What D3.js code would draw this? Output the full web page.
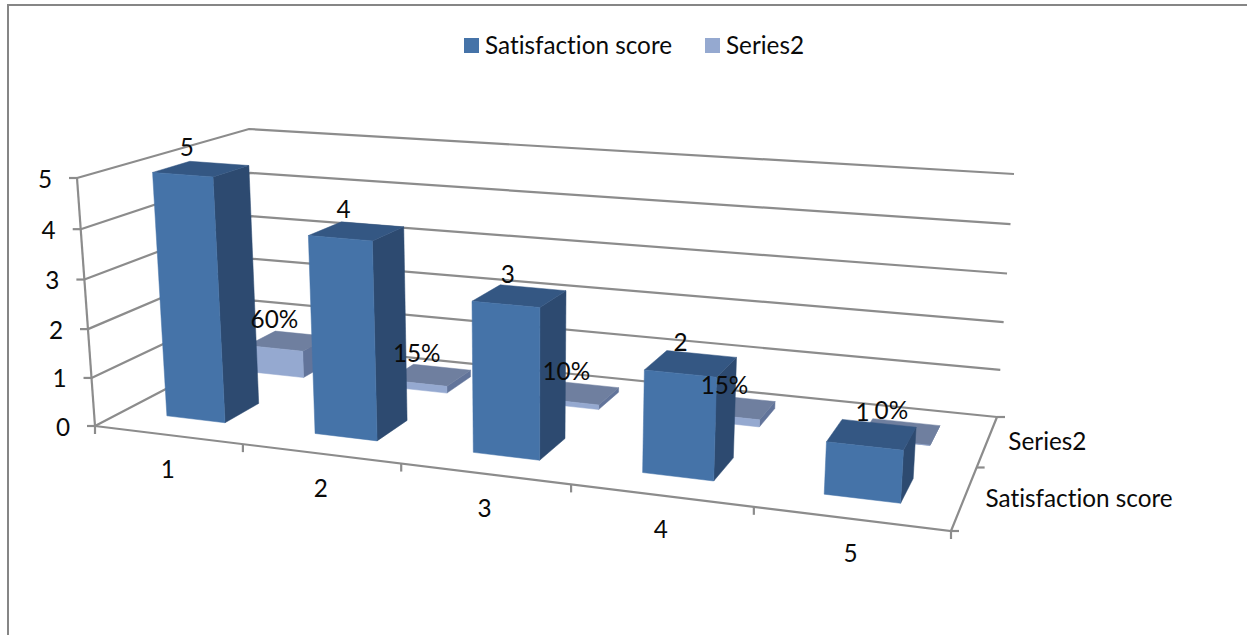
<!DOCTYPE html>
<html>
<head>
<meta charset="utf-8">
<script src="https://cdn.jsdelivr.net/npm/d3@7/dist/d3.min.js"></script>
<style>
  html, body { margin: 0; padding: 0; background: #fff; }
  svg { display: block; }
  text { font-family: Lato, "Open Sans", sans-serif; fill: #0a0a0a; font-variant-ligatures: none; }
</style>
</head>
<body>
<svg id="chart" width="1247" height="635"></svg>
<script>
// Chart data
const categories = ["1", "2", "3", "4", "5"];
const seriesNames = ["Satisfaction score", "Series2"];
const satisfactionValues = [5, 4, 3, 2, 1];
const series2Values = [0.6, 0.15, 0.1, 0.15, 0];
const series2Labels = ["60%", "15%", "10%", "15%", "0%"];
const valueTicks = [0, 1, 2, 3, 4, 5];

// Face colours per series: front, right side, top
const faceColors = [
  { front: "#4573a8", side: "#2d4a70", top: "#345783" },
  { front: "#95a9d0", side: "#62749a", top: "#6f7f9f" }
];
const axisColor = "#8c8c8c";

// The plot box seen in perspective: its eight corners on screen
const box = {
  floor: { fl: [95, 426], fr: [951, 531], bl: [256, 342], br: [997, 417] },
  roof:  { fl: [77, 178], fr: [968, 248], bl: [249, 129], br: [1014, 174] }
};

// Perspective foreshortening along one axis of the box
const foreshorten = k => t => t / (t + k * (1 - t));
const warpV = foreshorten(1.04);
const warpW = foreshorten(0.795);

const uScale = d3.scaleLinear().domain([0, categories.length]).range([0, 1]);
const vScale = d3.scaleLinear().domain([0, 5]).range([0, 1]);
const wScale = d3.scaleLinear().domain([0, seriesNames.length]).range([0, 1]);

const mix = (a, b, t) => [a[0] + (b[0] - a[0]) * t, a[1] + (b[1] - a[1]) * t];

// Maps category position u, value v and series depth w to the screen
function project(u, v, w) {
  const tv = warpV(vScale(v)), tw = warpW(wScale(w));
  // Foreshortening across the categories eases off towards the back wall
  const tu = foreshorten(1.197 - 0.06 * tw)(uScale(u));
  const level = c => mix(mix(c.fl, c.fr, tu), mix(c.bl, c.br, tu), tw);
  return mix(level(box.floor), level(box.roof), tv);
}

const svg = d3.select("#chart");
const path = d3.line();

// Outer frame of the chart area
svg.append("path")
  .attr("d", path([[8, 635], [8, 5], [1247, 5]]))
  .attr("fill", "none").attr("stroke", "#868686").attr("stroke-width", 2);

// Gridlines on the left and back walls
const grid = svg.append("g").attr("fill", "none")
  .attr("stroke", axisColor).attr("stroke-width", 2.2);
const nU = categories.length, nW = seriesNames.length;
valueTicks.forEach(v => {
  grid.append("path").attr("d", path([project(0, v, 0), project(0, v, nW), project(nU, v, nW)]));
});

// Axes
const axes = svg.append("g").attr("fill", "none")
  .attr("stroke", axisColor).attr("stroke-width", 2.2);
axes.append("path").attr("d", path([project(0, 5, 0), project(0, 0, 0)]));
axes.append("path").attr("d", path([project(0, 0, 0), project(nU, 0, 0), project(nU, 0, nW)]));

// Tick marks
valueTicks.forEach(v => {
  const p = project(0, v, 0);
  axes.append("path").attr("d", path([p, [p[0] - 8, p[1]]]));
});
d3.range(nU + 1).forEach(i => {
  const p = project(i, 0, 0);
  axes.append("path").attr("d", path([p, [p[0], p[1] + 8]]));
});
d3.range(nW + 1).forEach(i => {
  const p = project(nU, 0, i);
  axes.append("path").attr("d", path([p, [p[0] + 8, p[1]]]));
});

// One 3-D column: right side, top, then front
function drawColumn(g, i, row, value, colors) {
  const u0 = i + 0.3, u1 = i + 0.7, w0 = row + 0.3, w1 = row + 0.7;
  const face = (pts, fill) => g.append("path")
    .attr("d", path(pts) + "Z").attr("fill", fill)
    .attr("stroke", fill).attr("stroke-width", 0.5).attr("stroke-linejoin", "round");
  face([project(u1, 0, w0), project(u1, 0, w1), project(u1, value, w1), project(u1, value, w0)], colors.side);
  face([project(u0, value, w0), project(u1, value, w0), project(u1, value, w1), project(u0, value, w1)], colors.top);
  face([project(u0, 0, w0), project(u1, 0, w0), project(u1, value, w0), project(u0, value, w0)], colors.front);
}

// Rear series first so the front columns overlap it
const bars = svg.append("g");
[series2Values, satisfactionValues].forEach((values, k) => {
  const row = 1 - k;
  values.forEach((val, i) => drawColumn(bars, i, row, val, faceColors[row]));
});

// Text helper
const fontSize = 24.3;
function label(str, p, anchor) {
  return svg.append("text")
    .attr("x", p[0]).attr("y", p[1])
    .attr("text-anchor", anchor || "middle")
    .attr("dominant-baseline", "central")
    .attr("font-size", fontSize)
    .text(str);
}

// Value labels above the column tops, drifting rightwards along the categories
const valueLabelAt = (i, row, v) => {
  const p = project(i + 0.5, v, row + 0.5);
  return [p[0] - 14.5 + 1.3 * i, p[1] - 22.5];
};
satisfactionValues.forEach((v, i) => label(String(v), valueLabelAt(i, 0, v)));
series2Values.forEach((v, i) => label(series2Labels[i], valueLabelAt(i, 1, v)));

// Axis labels
valueTicks.forEach(v => {
  const p = project(0, v, 0);
  label(String(v), [p[0] - 25, p[1]], "end");
});
categories.forEach((c, i) => {
  const p = project(i + 0.5, 0, 0);
  label(c, [p[0], p[1] + 33.5]);
});
seriesNames.forEach((s, row) => {
  const p = project(nU, 0, row + 0.5);
  label(s, [p[0] + 21, p[1]], "start");
});

// Legend above the plot
const legendX = d3.scaleOrdinal().domain(seriesNames).range([464, 705]);
seriesNames.forEach((s, row) => {
  svg.append("rect")
    .attr("x", legendX(s)).attr("y", 38).attr("width", 15).attr("height", 15)
    .attr("fill", faceColors[row].front);
  label(s, [legendX(s) + 21, 44], "start");
});
</script>
</body>
</html>
